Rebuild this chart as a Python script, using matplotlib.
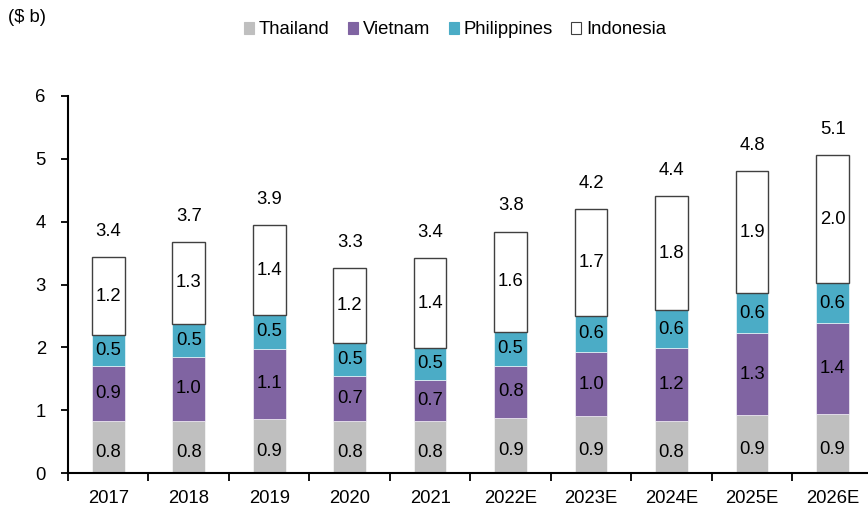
import matplotlib.pyplot as plt
from matplotlib.patches import Patch
from matplotlib.ticker import FixedLocator
import numpy as np

plt.rcParams['font.family'] = ['Liberation Sans', 'DejaVu Sans']

years = ['2017', '2018', '2019', '2020', '2021', '2022E', '2023E', '2024E', '2025E', '2026E']
thailand = [0.83, 0.83, 0.86, 0.82, 0.82, 0.88, 0.90, 0.82, 0.92, 0.94]
vietnam = [0.88, 1.02, 1.12, 0.73, 0.66, 0.83, 1.03, 1.17, 1.31, 1.44]
philippines = [0.49, 0.52, 0.53, 0.52, 0.51, 0.54, 0.57, 0.60, 0.63, 0.64]
indonesia = [1.23, 1.31, 1.43, 1.19, 1.43, 1.59, 1.70, 1.82, 1.94, 2.04]

series = [('Thailand', thailand, '#BFBFBF', '#BFBFBF'),
          ('Vietnam', vietnam, '#8064A2', '#8064A2'),
          ('Philippines', philippines, '#4BACC6', '#4BACC6'),
          ('Indonesia', indonesia, 'white', '#404040')]

fs = 13.3

fig = plt.figure(figsize=(8.68, 5.08), dpi=100)
ax = fig.add_axes([68 / 868, 35 / 508, 800 / 868, 377 / 508])

x = np.arange(len(years))
width = 0.405
bottom = np.zeros(len(years))
for name, vals, color, edge in series:
    vals = np.array(vals)
    lw = 1.0 if name == 'Indonesia' else 0.4
    ec = edge if name == 'Indonesia' else 'white'
    ax.bar(x, vals, width, bottom=bottom, color=color, edgecolor=ec, linewidth=lw, zorder=2)
    # bottom segment labels sit a little low in the original
    frac = 0.4 if name == 'Thailand' else 0.5
    for xi, b, v in zip(x, bottom, vals):
        ax.text(xi, b + v * frac, f'{v:.1f}', ha='center', va='center', fontsize=fs, color='black', zorder=3)
    bottom = bottom + vals

for xi, tot in zip(x, bottom):
    ax.text(xi, tot + 0.41, f'{tot:.1f}', ha='center', va='center', fontsize=fs, color='black')

ax.set_xlim(-0.5, 9.44)
ax.set_ylim(0, 6)
ax.set_yticks(range(7))
ax.set_xticks(x)
ax.set_xticklabels(years)
ax.xaxis.set_minor_locator(FixedLocator(np.arange(-0.5, 10, 1)))
ax.tick_params(axis='x', which='major', length=0, labelsize=fs, pad=12)
ax.tick_params(axis='x', which='minor', length=6, width=1.3, direction='out')
ax.tick_params(axis='y', length=5, width=1.3, direction='out', labelsize=fs, pad=11)

for s in ['top', 'right']:
    ax.spines[s].set_visible(False)
for s in ['left', 'bottom']:
    ax.spines[s].set_linewidth(1.5)

handles = [Patch(facecolor=c, edgecolor=(e if n == 'Indonesia' else c), linewidth=0.8, label=n)
           for n, _, c, e in series]
fig.legend(handles=handles, loc='center', bbox_to_anchor=(455 / 868, 1 - 30 / 508), ncol=4,
           frameon=False, fontsize=fs, handlelength=0.55, handleheight=0.55,
           handletextpad=0.25, columnspacing=1.0)

fig.text(8 / 868, 1 - 18 / 508, '($ b)', fontsize=fs, va='center', ha='left')

fig.savefig('out.png', dpi=100)
